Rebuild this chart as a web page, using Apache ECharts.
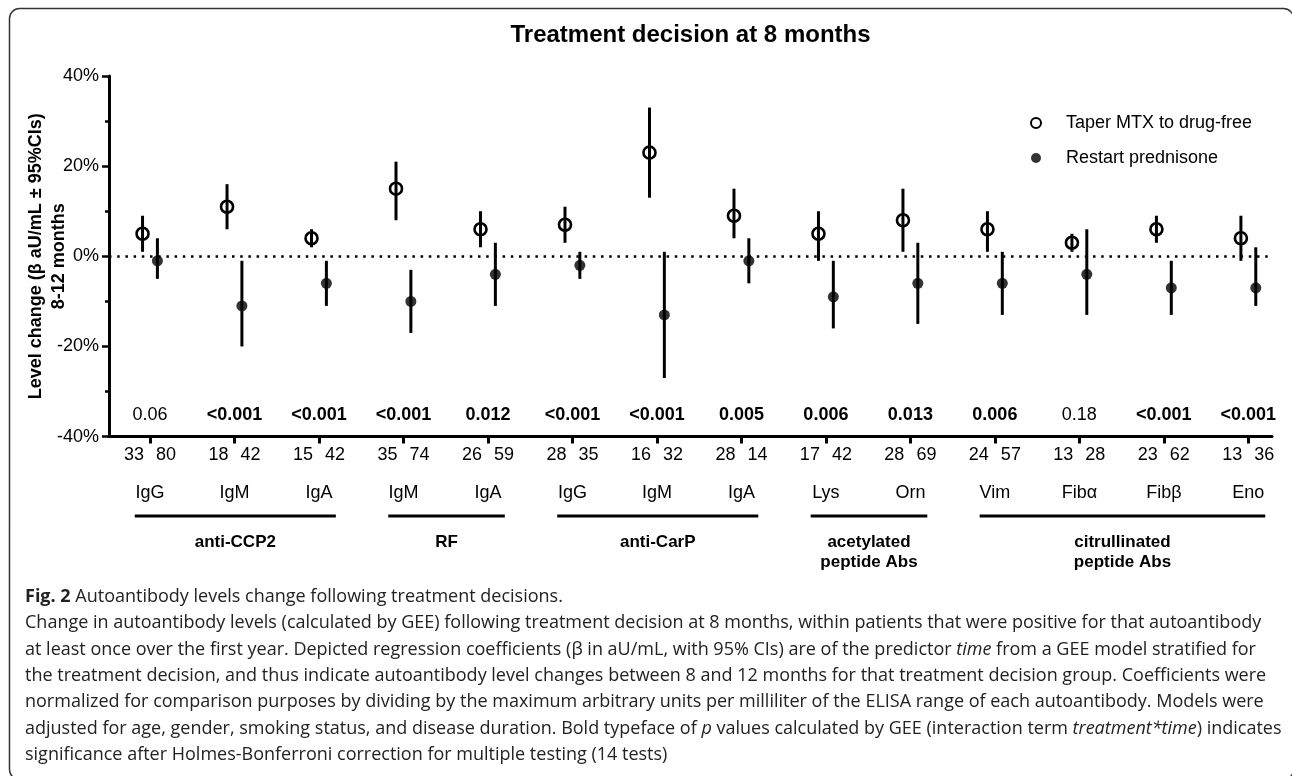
<!DOCTYPE html>
<html>
<head>
<meta charset="utf-8">
<script src="https://cdn.jsdelivr.net/npm/echarts@6/dist/echarts.min.js"></script>
<style>
html,body{margin:0;padding:0;background:#fff;}
#chart{width:1292px;height:776px;}
</style>
</head>
<body>
<div id="chart"></div>
<script>
// ---- data ----
const categories = ['IgG','IgM','IgA','IgM','IgA','IgG','IgM','IgA','Lys','Orn','Vim','Fibα','Fibβ','Eno'];
const nTaper   = [33,18,15,35,26,28,16,28,17,28,24,13,23,13];
const nRestart = [80,42,42,74,59,35,32,14,42,69,57,28,62,36];
const pValues  = ['0.06','<0.001','<0.001','<0.001','0.012','<0.001','<0.001','0.005','0.006','0.013','0.006','0.18','<0.001','<0.001'];
const pBold    = [false,true,true,true,true,true,true,true,true,true,true,false,true,true];
const taperMean   = [5,11,4,15,6,7,23,9,5,8,6,3,6,4];
const taperLow    = [1,6,2,8,2,3,13,4,-1,1,1,1,3,-1];
const taperHigh   = [9,16,6,21,10,11,33,15,10,15,10,5,9,9];
const restartMean = [-1,-11,-6,-10,-4,-2,-13,-1,-9,-6,-6,-4,-7,-7];
const restartLow  = [-5,-20,-11,-17,-11,-5,-27,-6,-16,-15,-13,-13,-13,-11];
const restartHigh = [4,-1,-1,-3,3,1,1,4,-1,3,1,6,-1,2];
const groupNames = ['anti-CCP2','RF','anti-CarP','acetylated\npeptide Abs','citrullinated\npeptide Abs'];
const groupStart = [0,3,5,8,10];
const groupEnd   = [2,4,7,9,13];
const yTicks = {min:-40, max:40, interval:20};
const seriesNames = ['Taper MTX to drug-free','Restart prednisone'];
const titleText = 'Treatment decision at 8 months';
const yTitle = 'Level change (β aU/mL ± 95%CIs)\n8-12 months';
const captionLines = [
  '{b|Fig. 2} Autoantibody levels change following treatment decisions.',
  'Change in autoantibody levels (calculated by GEE) following treatment decision at 8 months, within patients that were positive for that autoantibody',
  'at least once over the first year. Depicted regression coefficients (β in aU/mL, with 95% CIs) are of the predictor {i|time} from a GEE model stratified for',
  'the treatment decision, and thus indicate autoantibody level changes between 8 and 12 months for that treatment decision group. Coefficients were',
  'normalized for comparison purposes by dividing by the maximum arbitrary units per milliliter of the ELISA range of each autoantibody. Models were',
  'adjusted for age, gender, smoking status, and disease duration. Bold typeface of {i|p} values calculated by GEE (interaction term {i|treatment*time}) indicates',
  'significance after Holmes-Bonferroni correction for multiple testing (14 tests)'
];

// ---- build ----
const FONT = 'Liberation Sans, Arial, sans-serif';
const CAPFONT = 'Open Sans, sans-serif';
const OFF = 0.088;
const idx = categories.map((_, i) => i);
const taperPts = idx.map(i => [i - OFF, taperMean[i]]);
const restartPts = idx.map(i => [i + OFF, restartMean[i]]);
const taperBars = idx.map(i => [i - OFF, taperLow[i], taperHigh[i]]);
const restartBars = idx.map(i => [i + OFF, restartLow[i], restartHigh[i]]);

function errRender(params, api) {
  const x = api.value(0);
  const p1 = api.coord([x, api.value(1)]);
  const p2 = api.coord([x, api.value(2)]);
  return {type:'line', shape:{x1:p1[0], y1:p1[1], x2:p2[0], y2:p2[1]},
          style:{stroke:'#000', lineWidth:3, lineCap:'butt'}};
}

const chart = echarts.init(document.getElementById('chart'), null, {renderer:'canvas'});
const capStyle = {fontFamily:CAPFONT, fontSize:18, lineHeight:26.33, fill:'#222'};
chart.setOption({
  animation:false,
  backgroundColor:'#fff',
  grid:{left:109, right:20, top:76, bottom:339.4, containLabel:false, outerBoundsMode:'none'},
  legend:{
    data:seriesNames, orient:'vertical', left:1025, top:109,
    itemWidth:50, itemHeight:10, itemGap:17,
    textStyle:{fontSize:18, fontFamily:FONT, color:'#000'},
    selectedMode:false
  },
  xAxis:{
    type:'value', min:-0.485, max:13.28,
    splitLine:{show:false},
    axisLine:{show:true, onZero:false, lineStyle:{color:'#000', width:3}},
    axisTick:{show:true, customValues:idx, length:7, lineStyle:{color:'#000', width:3}},
    axisLabel:{
      show:true, customValues:idx, margin:7, color:'#000',
      formatter:function(v){ const i = Math.round(v); return '{c|' + nTaper[i] + '}{g| }{c|' + nRestart[i] + '}\n{n|' + categories[i] + '}'; },
      rich:{
        c:{fontSize:18, fontFamily:FONT, lineHeight:22, color:'#000'},
        g:{fontSize:18, fontFamily:FONT, lineHeight:22, width:12},
        n:{fontSize:18, fontFamily:FONT, lineHeight:54, color:'#000'}
      }
    }
  },
  yAxis:{
    type:'value', min:yTicks.min, max:yTicks.max, interval:yTicks.interval,
    splitLine:{show:false},
    axisLine:{show:true, onZero:false, lineStyle:{color:'#000', width:3}},
    axisTick:{show:true, length:7, lineStyle:{color:'#000', width:2.5}},
    minorTick:{show:true, splitNumber:2, length:4, lineStyle:{color:'#000', width:2.5}},
    axisLabel:{formatter:'{value}%', fontSize:18, fontFamily:FONT, color:'#000', margin:10},
    name:yTitle, nameLocation:'middle', nameGap:38, nameMoveOverlap:false,
    nameTextStyle:{fontSize:18, fontWeight:'bold', fontFamily:FONT, color:'#000', lineHeight:23}
  },
  series:[
    {type:'custom', name:'taperErr', renderItem:errRender, data:taperBars, encode:{x:0, y:[1,2]}, z:2, silent:true},
    {type:'custom', name:'restartErr', renderItem:errRender, data:restartBars, encode:{x:0, y:[1,2]}, z:2, silent:true},
    {type:'scatter', name:seriesNames[0], data:taperPts, symbol:'circle', symbolSize:12, z:3,
     itemStyle:{color:'rgba(255,255,255,0)', borderColor:'#000', borderWidth:2.6, opacity:1},
     markLine:{silent:true, symbol:'none', label:{show:false},
       lineStyle:{color:'#000', width:2.5, type:[2.5,5.7]}, data:[{yAxis:0}]}},
    {type:'scatter', name:seriesNames[1], data:restartPts, symbol:'circle', symbolSize:11, z:3,
     itemStyle:{color:'#000', borderWidth:0}},
    {type:'custom', name:'pvals', silent:true, data:idx.map(i => [i, yTicks.min]), encode:{x:0, y:1},
     renderItem:function(params, api){
       const i = params.dataIndex;
       const pt = api.coord([api.value(0), yTicks.min]);
       return {type:'text', x:pt[0], y:pt[1] - 22,
         style:{text:pValues[i], fontSize:18, fontWeight:pBold[i] ? 'bold' : 'normal', fontFamily:FONT, fill:'#000', align:'center', verticalAlign:'middle'}};
     }},
    {type:'custom', name:'groups', silent:true, clip:false,
     data:groupNames.map((g, k) => [groupStart[k], groupEnd[k]]), encode:{x:[0,1]},
     renderItem:function(params, api){
       const k = params.dataIndex;
       const a = api.coord([groupStart[k] - 0.18, yTicks.min]);
       const b = api.coord([groupEnd[k] + 0.2, yTicks.min]);
       const y0 = a[1];
       return {type:'group', children:[
         {type:'line', shape:{x1:a[0], y1:y0 + 79.5, x2:b[0], y2:y0 + 79.5}, style:{stroke:'#000', lineWidth:3}},
         {type:'text', x:(a[0] + b[0]) / 2, y:y0 + 95.5,
          style:{text:groupNames[k], fontSize:17, fontWeight:'bold', fontFamily:FONT, fill:'#000', align:'center', verticalAlign:'top', lineHeight:20}}
       ]};
     }}
  ],
  graphic:[
    {type:'rect', shape:{x:9.5, y:8.5, width:1284, height:771, r:10}, style:{fill:'none', stroke:'#333', lineWidth:1.5}, silent:true},
    {type:'text', x:690.5, y:35, style:{text:titleText, fontSize:24, fontWeight:'bold', fontFamily:FONT, fill:'#000', align:'center', verticalAlign:'middle'}},
    {type:'text', x:25, y:583.8, style:Object.assign({
      text:captionLines.join('\n'), align:'left', verticalAlign:'top',
      rich:{
        b:Object.assign({}, capStyle, {fontWeight:'bold'}),
        i:Object.assign({}, capStyle, {fontStyle:'italic'})
      }}, capStyle)}
  ]
});
</script>
</body>
</html>
